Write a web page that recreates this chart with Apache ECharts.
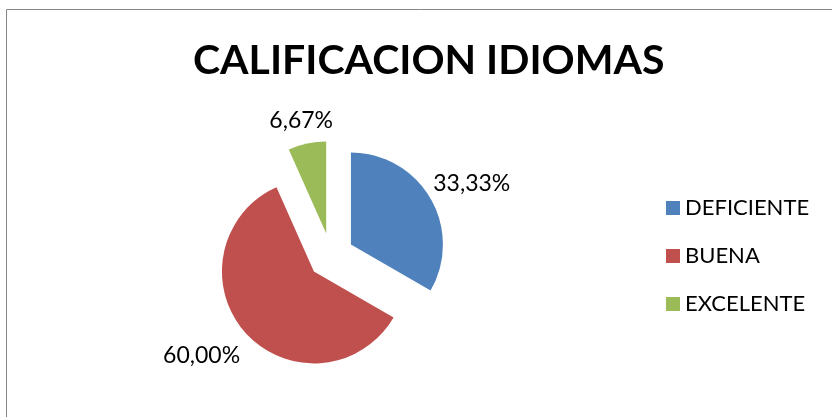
<!DOCTYPE html>
<html>
<head>
<meta charset="utf-8">
<script src="https://cdn.jsdelivr.net/npm/echarts@6/dist/echarts.min.js"></script>
<style>
html, body { margin: 0; padding: 0; background: #fff; }
#chart { width: 832px; height: 417px; }
</style>
</head>
<body>
<div id="chart"></div>
<script>
var categories = ['DEFICIENTE', 'BUENA', 'EXCELENTE'];
var values = [33.33, 60.00, 6.67];
var colors = ['#4F81BD', '#C0504D', '#9BBB59'];
// nudges so the labels sit where Excel put them
var labelShift = [[-11, -10], [7, 16], [33, -13]];

var myChart = echarts.init(document.getElementById('chart'));

var pieData = categories.map(function (name, i) {
	return {
		name: name,
		value: values[i],
		selected: true,
		itemStyle: { color: colors[i] }
	};
});

var option = {
	animation: false,
	backgroundColor: '#fff',
	graphic: [{
		type: 'rect',
		shape: { x: 6.5, y: 9.5, width: 900, height: 500 },
		style: { fill: 'none', stroke: '#868686', lineWidth: 1 },
		silent: true
	}],
	title: {
		text: 'CALIFICACION IDIOMAS',
		left: 193,
		top: 40,
		padding: 0,
		textStyle: {
			fontFamily: 'Lato',
			fontWeight: 'bold',
			fontSize: 41,
			color: '#000'
		}
	},
	legend: {
		orient: 'vertical',
		left: 666,
		top: 197,
		padding: 0,
		itemWidth: 14,
		itemHeight: 14,
		itemGap: 26,
		icon: 'rect',
		data: categories,
		textStyle: { fontFamily: 'Lato', fontSize: 22, color: '#000' }
	},
	series: [{
		type: 'pie',
		center: [331, 256],
		radius: 92,
		startAngle: 90,
		selectedMode: 'multiple',
		selectedOffset: 23,
		avoidLabelOverlap: false,
		label: {
			show: true,
			position: 'outside',
			fontFamily: 'Lato',
			fontSize: 23,
			color: '#000',
			formatter: function (p) {
				return p.value.toFixed(2).replace('.', ',') + '%';
			}
		},
		labelLine: { show: false, length: 10, length2: 0 },
		labelLayout: function (params) {
			var s = labelShift[params.dataIndex];
			return { dx: s[0], dy: s[1] };
		},
		emphasis: { disabled: true },
		select: { itemStyle: { borderWidth: 0 } },
		data: pieData
	}]
};

myChart.setOption(option);
</script>
</body>
</html>
